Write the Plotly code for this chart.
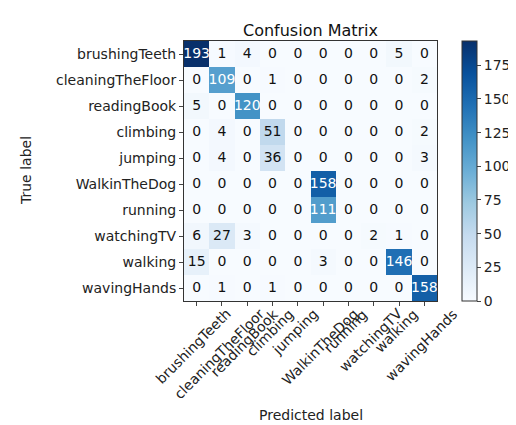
import plotly.graph_objects as go

# class names, in the same order on both axes
labels = ["brushingTeeth", "cleaningTheFloor", "readingBook", "climbing", "jumping",
          "WalkinTheDog", "running", "watchingTV", "walking", "wavingHands"]

# rows = true label, columns = predicted label
counts = [
    [193, 1, 4, 0, 0, 0, 0, 0, 5, 0],
    [0, 109, 0, 1, 0, 0, 0, 0, 0, 2],
    [5, 0, 120, 0, 0, 0, 0, 0, 0, 0],
    [0, 4, 0, 51, 0, 0, 0, 0, 0, 2],
    [0, 4, 0, 36, 0, 0, 0, 0, 0, 3],
    [0, 0, 0, 0, 0, 158, 0, 0, 0, 0],
    [0, 0, 0, 0, 0, 111, 0, 0, 0, 0],
    [6, 27, 3, 0, 0, 0, 0, 2, 1, 0],
    [15, 0, 0, 0, 0, 3, 0, 0, 146, 0],
    [0, 1, 0, 1, 0, 0, 0, 0, 0, 158],
]

FONT = "DejaVu Sans"
FS = 14
vmax = max(max(r) for r in counts)
thresh = vmax / 2
n = len(labels)

fig = go.Figure()
fig.add_trace(go.Heatmap(
    z=counts, x=labels, y=labels, colorscale="Blues", zmin=0, zmax=vmax,
    colorbar=dict(x=1.10, xanchor="left", xpad=0, y=0.5, ypad=0, len=1.0,
                  thickness=15, outlinewidth=1, outlinecolor="#333",
                  ticks="outside", ticklen=4,
                  tickvals=[0, 25, 50, 75, 100, 125, 150, 175],
                  tickfont=dict(family=FONT, size=FS, color="#222")),
    hoverinfo="skip",
))

# cell values
xs, ys, txt, cols = [], [], [], []
for i, row in enumerate(counts):
    for j, v in enumerate(row):
        xs.append(labels[j])
        ys.append(labels[i])
        txt.append(str(v))
        cols.append("white" if v > thresh else "#111")
fig.add_trace(go.Scatter(x=xs, y=ys, mode="text", text=txt,
                         textfont=dict(family=FONT, size=FS, color=cols),
                         hoverinfo="skip", showlegend=False))

# rotated x tick labels, centred on the ticks like matplotlib
for lab in labels:
    fig.add_annotation(x=lab, y=0, xref="x", yref="paper", yshift=-2, xshift=-3,
                       text=lab, textangle=-45, showarrow=False,
                       xanchor="center", yanchor="top",
                       font=dict(family=FONT, size=FS, color="#222"))

fig.add_annotation(x=0.5, y=0, xref="paper", yref="paper", yshift=-114,
                   text="Predicted label", showarrow=False, yanchor="middle",
                   font=dict(family=FONT, size=FS, color="#222"))
fig.add_annotation(x=0, y=0.5, xref="paper", yref="paper", xshift=-148,
                   text="True label", textangle=-90, showarrow=False, xanchor="right",
                   font=dict(family=FONT, size=FS, color="#222"))

fig.update_xaxes(range=[-0.5, n - 0.5], showticklabels=False, ticks="outside",
                 ticklen=4, showline=True, linecolor="#333", mirror=True,
                 showgrid=False, zeroline=False, automargin=False)
fig.update_yaxes(range=[n - 0.5, -0.5], ticks="outside", ticklen=4, showline=True,
                 linecolor="#333", mirror=True, showgrid=False, zeroline=False,
                 automargin=False, tickfont=dict(family=FONT, size=FS, color="#222"))

fig.update_layout(
    width=516, height=425,
    margin=dict(l=176, r=79, t=33, b=132),
    paper_bgcolor="white", plot_bgcolor="white",
    title=dict(text="Confusion Matrix", x=0.5, xref="paper", y=1, yref="paper",
               yanchor="bottom", pad=dict(b=5),
               font=dict(family=FONT, size=16, color="#111")),
    font=dict(family=FONT),
)

fig.write_html("out.html")
